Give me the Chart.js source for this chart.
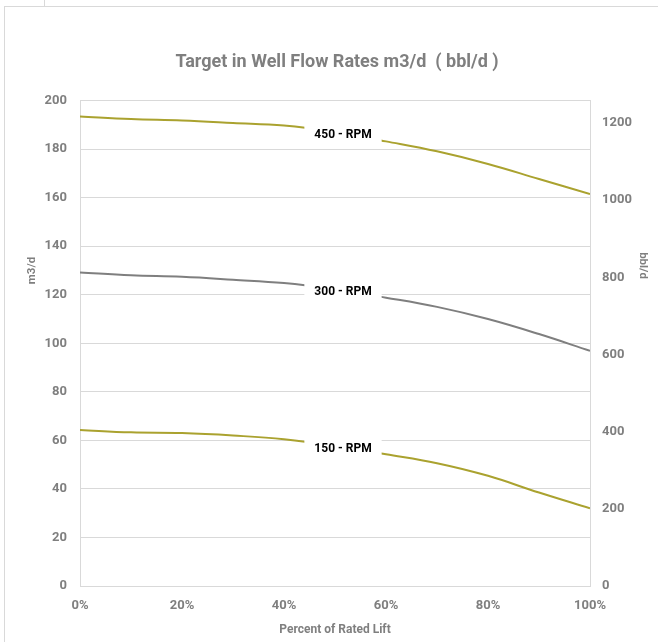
<!DOCTYPE html>
<html>
<head>
<meta charset="utf-8">
<script src="https://cdn.jsdelivr.net/npm/chart.js@4/dist/chart.umd.min.js"></script>
<style>
  html, body { margin: 0; padding: 0; background: #fff; }
  #wrap { position: relative; width: 658px; height: 642px; overflow: hidden; }
  #frame { position: absolute; left: 4px; top: 6px; width: 700px; height: 700px;
           border-left: 1px solid #d9d9d9; border-top: 1px solid #d9d9d9; }
  #tab { position: absolute; left: 44px; top: 0; width: 0; height: 6px; border-left: 1px solid #d9d9d9; }
  canvas { position: absolute; left: 0; top: 0; }
</style>
</head>
<body>
<div id="wrap">
  <div id="frame"></div>
  <div id="tab"></div>
  <canvas id="chart" width="658" height="642"></canvas>
</div>
<script>
// percent of rated lift
const lift = [0, 10, 20, 30, 40, 50, 60, 70, 80, 90, 100];
// flow rates in m3/d
const rpm450 = [193.5, 192.4, 191.8, 190.8, 189.7, 187.0, 183.2, 179.1, 173.9, 167.7, 161.5];
const rpm300 = [129.2, 128.0, 127.4, 126.2, 124.8, 122.2, 118.8, 115.0, 110.0, 103.8, 96.9];
const rpm150 = [64.3, 63.3, 63.0, 62.0, 60.5, 57.8, 54.3, 50.6, 45.4, 38.5, 32.0];
const seriesNames = ['450 - RPM', '300 - RPM', '150 - RPM'];
const labelAt = 5; // index of the point that carries the series label

const M3_TO_BBL = 6.2898;
const olive = '#aaa22f';
const grey = '#7f7f7f';
const textGrey = '#7f7f7f';
const font = 'Roboto, "Open Sans", sans-serif';
const tickFont = { family: font, size: 13, weight: 'bold' };
const titleFont = { family: font, size: 12, weight: 'bold' };

const toXY = vals => vals.map((v, i) => ({ x: lift[i], y: v }));

// draws "xxx - RPM" on a white box over the curve
const seriesLabels = {
  id: 'seriesLabels',
  afterDatasetsDraw(chart) {
    const ctx = chart.ctx;
    ctx.save();
    ctx.font = 'bold 12px ' + font;
    ctx.textAlign = 'center';
    ctx.textBaseline = 'middle';
    chart.data.datasets.forEach((ds, i) => {
      const pt = chart.getDatasetMeta(i).data[labelAt];
      if (!pt) return;
      const w = ctx.measureText(ds.label).width + 20;
      const h = 20;
      const cx = pt.x + 8, cy = pt.y + 3;
      ctx.fillStyle = '#fff';
      ctx.fillRect(cx - w / 2, cy - h / 2, w, h);
      ctx.fillStyle = '#000';
      ctx.fillText(ds.label, cx, cy);
    });
    ctx.restore();
  }
};

// y axis titles sit a bit above the middle, as in the original sheet
const sideTitles = {
  id: 'sideTitles',
  afterDraw(chart) {
    const { ctx, chartArea: a } = chart;
    const cy = a.top + (a.bottom - a.top) * 0.35;
    const draw = (text, x, y, angle) => {
      ctx.save();
      ctx.font = 'bold 11.5px ' + font;
      ctx.fillStyle = textGrey;
      ctx.textAlign = 'center';
      ctx.textBaseline = 'middle';
      ctx.translate(x, y);
      ctx.rotate(angle);
      ctx.fillText(text, 0, 0);
      ctx.restore();
    };
    draw(chart.options.scales.y.title.text, a.left - 48, cy, -Math.PI / 2);
    draw(chart.options.scales.y2.title.text, a.right + 53, cy - 5, Math.PI / 2);
  }
};

new Chart(document.getElementById('chart'), {
  type: 'line',
  data: {
    datasets: [
      { label: seriesNames[0], data: toXY(rpm450), borderColor: olive },
      { label: seriesNames[1], data: toXY(rpm300), borderColor: grey },
      { label: seriesNames[2], data: toXY(rpm150), borderColor: olive }
    ].map(d => Object.assign(d, { borderWidth: 2, pointRadius: 0, tension: 0.4, fill: false, yAxisID: 'y' }))
  },
  options: {
    responsive: false,
    animation: false,
    layout: { padding: { left: 20, right: 4, top: 0, bottom: 1 } },
    plugins: {
      legend: { display: false },
      tooltip: { enabled: false },
      title: {
        display: true,
        text: 'Target in Well Flow Rates m3/d  ( bbl/d )',
        color: textGrey,
        font: { family: font, size: 18, weight: 'bold' },
        padding: { top: 52, bottom: 27 }
      }
    },
    scales: {
      x: {
        type: 'linear',
        min: 0,
        max: 100,
        ticks: { stepSize: 20, callback: v => v + '%', color: textGrey, padding: 12, font: tickFont },
        grid: { display: true, drawOnChartArea: false, drawTicks: false },
        border: { color: '#d9d9d9' },
        title: { display: true, text: 'Percent of Rated Lift', color: textGrey, padding: { top: 5, bottom: 4 },
                 font: titleFont },
        afterFit: s => { s.height = 55; }
      },
      y: {
        position: 'left',
        min: 0,
        max: 200,
        ticks: { stepSize: 20, color: textGrey, padding: 13, font: tickFont },
        grid: { color: '#d9d9d9', drawTicks: false },
        border: { color: '#d9d9d9' },
        title: { display: false, text: 'm3/d' },
        afterFit: s => { s.width = 60; }
      },
      y2: {
        position: 'right',
        min: 0,
        max: 200 * M3_TO_BBL,
        ticks: { stepSize: 200, color: textGrey, padding: 12, font: tickFont,
                 callback: v => (v % 200 === 0 ? String(v) : null) },
        grid: { drawOnChartArea: false, drawTicks: false },
        border: { color: '#d9d9d9' },
        title: { display: false, text: 'bbl/d' },
        afterFit: s => { s.width = 64; }
      }
    }
  },
  plugins: [seriesLabels, sideTitles]
});
</script>
</body>
</html>
